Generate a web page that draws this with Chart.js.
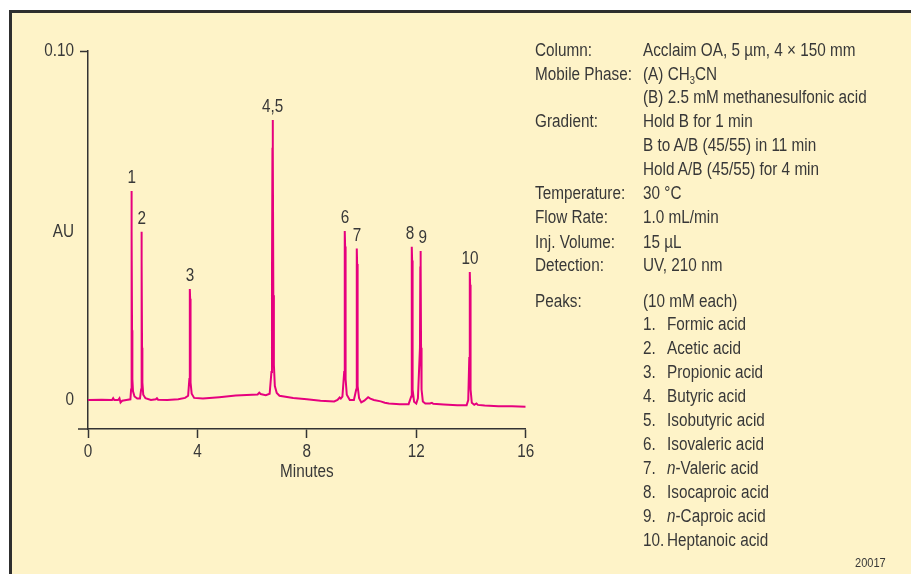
<!DOCTYPE html>
<html>
<head>
<meta charset="utf-8">
<script src="https://cdn.jsdelivr.net/npm/chart.js@4.4.1/dist/chart.umd.min.js"></script>
<style>
  html, body { margin:0; padding:0; background:#ffffff; }
  #wrap { position:relative; width:911px; height:574px; overflow:hidden; }
  #frame { position:absolute; left:9px; top:10px; width:910px; height:570px;
           border-left:3px solid #2e2e2e; border-top:3px solid #2e2e2e; background:#fef3c8; }
  #c { position:absolute; left:0; top:0; }
  #info { position:absolute; left:0; top:0; width:911px; height:574px;
          font-family:'Liberation Sans',Arial,sans-serif;
          font-size:18px; color:#383838; }
  #info div { position:absolute; white-space:nowrap; line-height:20px;
              transform:scaleX(0.85); transform-origin:0 0; }
  #info sub { font-size:11px; vertical-align:-4px; line-height:0; }
  #info .small { font-size:13px; }
</style>
</head>
<body>
<div id="wrap">
  <div id="frame"></div>
  <canvas id="c" width="911" height="574"></canvas>
  <div id="info"></div>
</div>
<script>
// ---- data ----
const traceTime = [
  0.00, 0.50, 0.88, 0.92, 0.96, 1.10, 1.15, 1.19, 1.25, 1.40,
  1.55, 1.575, 1.585, 1.591, 1.597, 1.603, 1.610, 1.622, 1.645, 1.70, 1.80,
  1.90, 1.942, 1.952, 1.957, 1.963, 1.969, 1.976, 1.988, 2.02, 2.10,
  2.30, 2.48, 2.52, 2.56, 2.90, 3.30, 3.55,
  3.66, 3.705, 3.716, 3.722, 3.728, 3.734, 3.742, 3.756, 3.79, 3.88,
  4.20, 4.80, 5.40, 6.00, 6.20, 6.26, 6.31, 6.50,
  6.64, 6.705, 6.725, 6.742, 6.751, 6.760, 6.775, 6.795, 6.83, 6.90, 7.00,
  7.50, 8.00, 8.50, 9.00, 9.12, 9.20, 9.24,
  9.30, 9.365, 9.377, 9.387, 9.393, 9.399, 9.408, 9.425, 9.46, 9.57,
  9.72, 9.805, 9.817, 9.826, 9.832, 9.838, 9.847, 9.865, 9.91, 9.99,
  10.10, 10.24, 10.32, 10.45, 10.70, 10.85, 11.00, 11.40,
  11.72, 11.815, 11.828, 11.836, 11.842, 11.848, 11.857, 11.875, 11.92, 12.00,
  12.06, 12.135, 12.147, 12.154, 12.160, 12.166, 12.175, 12.193, 12.24, 12.33,
  12.50, 12.57, 12.62, 13.00, 13.50, 13.84,
  13.90, 13.937, 13.950, 13.957, 13.962, 13.968, 13.977, 13.993, 14.03, 14.12,
  14.20, 14.25, 14.50, 15.00, 15.50, 16.00
];
const traceAU = [
  0.0000, 0.0001, 0.0000, 0.0005, 0.0000, 0.0000, 0.0005, -0.0007, -0.0002, 0.0000,
  0.0002, 0.0030, 0.0200, 0.0480, 0.0599, 0.0480, 0.0200, 0.0060, 0.0025, 0.0010, 0.0004,
  0.0004, 0.0030, 0.0180, 0.0400, 0.0482, 0.0400, 0.0150, 0.0050, 0.0015, 0.0005,
  0.0000, 0.0002, 0.0005, 0.0001, 0.0000, 0.0002, 0.0006,
  0.0012, 0.0060, 0.0200, 0.0300, 0.0318, 0.0290, 0.0150, 0.0050, 0.0018, 0.0006,
  0.0004, 0.0008, 0.0013, 0.0015, 0.0016, 0.0021, 0.0017, 0.0014,
  0.0018, 0.0080, 0.0350, 0.0720, 0.0802, 0.0720, 0.0300, 0.0100, 0.0040, 0.0020, 0.0012,
  0.0006, 0.0002, -0.0002, -0.0004, 0.0000, 0.0007, 0.0004,
  0.0010, 0.0080, 0.0300, 0.0460, 0.0484, 0.0440, 0.0200, 0.0060, 0.0015, 0.0000,
  0.0000, 0.0030, 0.0200, 0.0400, 0.0434, 0.0390, 0.0150, 0.0040, 0.0005, -0.0007,
  -0.0002, 0.0008, 0.0004, 0.0000, -0.0004, -0.0008, -0.0010, -0.0012,
  -0.0012, 0.0010, 0.0150, 0.0380, 0.0439, 0.0400, 0.0150, 0.0030, -0.0005, -0.0010,
  0.0005, 0.0150, 0.0380, 0.0420, 0.0427, 0.0390, 0.0150, 0.0030, -0.0004, -0.0010,
  -0.0010, -0.0008, -0.0011, -0.0013, -0.0015, -0.0015,
  0.0000, 0.0120, 0.0300, 0.0350, 0.0367, 0.0330, 0.0120, 0.0030, -0.0008, -0.0014,
  -0.0010, -0.0014, -0.0016, -0.0018, -0.0018, -0.0019
];
const peakLabels  = ['1', '2', '3', '4,5', '6', '7', '8', '9', '10'];
const peakTimes   = [1.597, 1.963, 3.728, 6.751, 9.393, 9.832, 11.842, 12.160, 13.962];
const peakHeights = [0.0599, 0.0482, 0.0318, 0.0802, 0.0484, 0.0434, 0.0439, 0.0427, 0.0367];
const xTickValues = [0, 4, 8, 12, 16];
const xTickLabels = ['0', '4', '8', '12', '16'];
const yTickValues = [0, 0.1];
const yTickLabels = ['0', '0.10'];
const xTitle = 'Minutes';
const yTitle = 'AU';

const infoLabels = ['Column:', 'Mobile Phase:', '', 'Gradient:', '', '', 'Temperature:', 'Flow Rate:', 'Inj. Volume:', 'Detection:', 'Peaks:'];
const infoValues = ['Acclaim OA, 5 µm, 4 × 150 mm', '(A) CH<sub>3</sub>CN', '(B) 2.5 mM methanesulfonic acid',
  'Hold B for 1 min', 'B to A/B (45/55) in 11 min', 'Hold A/B (45/55) for 4 min',
  '30 °C', '1.0 mL/min', '15 µL', 'UV, 210 nm', '(10 mM each)'];
const peakNumbers = ['1.', '2.', '3.', '4.', '5.', '6.', '7.', '8.', '9.', '10.'];
const peakNames = ['Formic acid', 'Acetic acid', 'Propionic acid', 'Butyric acid', 'Isobutyric acid',
  'Isovaleric acid', '<i>n</i>-Valeric acid', 'Isocaproic acid', '<i>n</i>-Caproic acid', 'Heptanoic acid'];
const figureId = '20017';

// ---- info panel (HTML text) ----
const COND = 0.85;
const info = document.getElementById('info');
const infoRowY = [50, 73.5, 97, 121, 145, 169, 193, 217, 241.5, 265, 300.5];
const peakRowY = [323.5, 347.5, 371.5, 395.5, 419.5, 443.5, 467.5, 491.5, 515.5, 539.5];
function addText(html, x, y, cls) {
  const d = document.createElement('div');
  d.innerHTML = html; d.style.left = x + 'px'; d.style.top = (y - 10) + 'px';
  if (cls) d.className = cls;
  info.appendChild(d);
  return d;
}
infoLabels.forEach((t, i) => { if (t) addText(t, 535, infoRowY[i]); });
infoValues.forEach((t, i) => addText(t, 643, infoRowY[i]));
peakNumbers.forEach((t, i) => addText(t, 643, peakRowY[i]));
peakNames.forEach((t, i) => addText(t, 667, peakRowY[i]));
const fid = addText(figureId, 0, 563, 'small');
fid.style.left = (886 - fid.offsetWidth * COND) + 'px';

// ---- chart ----
const FONT = "'Liberation Sans', Arial, sans-serif";
const axisColor = '#333333';
const textColor = '#383838';

function condText(ctx, text, x, y, align) {
  ctx.save();
  ctx.translate(x, y);
  ctx.scale(COND, 1);
  ctx.textAlign = align;
  ctx.textBaseline = 'middle';
  ctx.fillText(text, 0, 0);
  ctx.restore();
}

const extras = {
  id: 'extras',
  afterDraw(chart) {
    const {ctx, scales: {x, y}} = chart;
    ctx.save();
    // x axis extends slightly left past the y axis
    ctx.strokeStyle = axisColor; ctx.lineWidth = 1.5;
    ctx.beginPath();
    ctx.moveTo(x.left - 10, y.bottom); ctx.lineTo(x.left, y.bottom);
    ctx.stroke();
    ctx.fillStyle = textColor;
    ctx.font = '18px ' + FONT;
    // tick labels
    xTickValues.forEach((v, i) => condText(ctx, xTickLabels[i], x.getPixelForValue(v), y.bottom + 23, 'center'));
    yTickValues.forEach((v, i) => condText(ctx, yTickLabels[i], x.left - 14, y.getPixelForValue(v), 'right'));
    // axis titles
    condText(ctx, xTitle, (x.left + x.right) / 2, y.bottom + 43, 'center');
    condText(ctx, yTitle, x.left - 14, y.getPixelForValue(0.0482), 'right');
    // peak labels
    const nudge = {'8': -2, '9': 2};
    peakLabels.forEach((lab, i) => {
      const px = x.getPixelForValue(peakTimes[i]) + (nudge[lab] || 0);
      const py = y.getPixelForValue(peakHeights[i]) - 12.7;
      condText(ctx, lab, px, py, 'center');
    });
    ctx.restore();
  }
};

new Chart(document.getElementById('c'), {
  type: 'line',
  data: {
    datasets: [{
      data: traceTime.map((t, i) => ({x: t, y: traceAU[i]})),
      borderColor: '#e6007e',
      borderWidth: 2,
      pointRadius: 0,
      tension: 0,
      fill: false
    }]
  },
  options: {
    responsive: false,
    animation: false,
    devicePixelRatio: 1,
    layout: { padding: { left: 0, top: 51, right: 385.3, bottom: 0 } },
    plugins: { legend: { display: false }, tooltip: { enabled: false } },
    scales: {
      x: {
        type: 'linear', min: 0, max: 16,
        afterBuildTicks: s => { s.ticks = xTickValues.map(v => ({value: v})); },
        afterFit: s => { s.height = 145; },
        border: { display: true, color: axisColor, width: 1.5 },
        grid: { display: true, drawOnChartArea: false, drawTicks: true, tickLength: 9, color: axisColor, tickWidth: 1.5 },
        ticks: { display: false }
      },
      y: {
        type: 'linear', min: -0.00831, max: 0.1,
        afterBuildTicks: s => { s.ticks = yTickValues.map(v => ({value: v})); },
        afterFit: s => { s.width = 88; },
        border: { display: true, color: axisColor, width: 1.5 },
        grid: { display: true, drawOnChartArea: false, drawTicks: true, tickLength: 8, color: axisColor, tickWidth: 1.5,
                tickColor: c => (c.tick && c.tick.value === 0) ? 'rgba(0,0,0,0)' : axisColor },
        ticks: { display: false }
      }
    }
  },
  plugins: [extras]
});
</script>
</body>
</html>
